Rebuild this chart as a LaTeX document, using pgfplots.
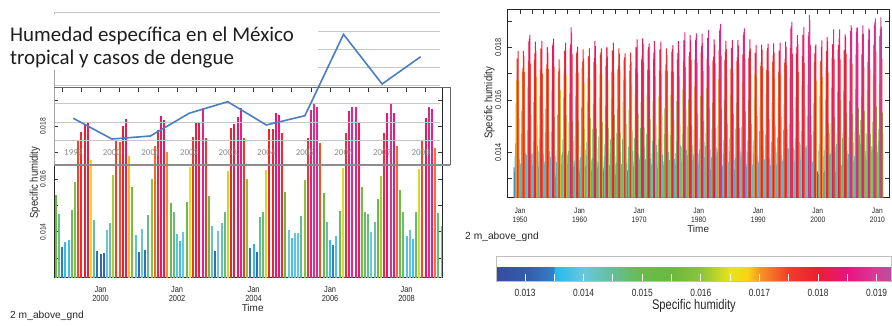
\documentclass[border=0pt]{standalone}
\usepackage{pgfplots}
\pgfplotsset{compat=1.18}
\usepackage{pgfplotstable}
\usepackage{fontspec}
\setmainfont{Liberation Sans}
\newfontfamily\narrowfont[FakeStretch=0.85]{Liberation Sans}
\newfontfamily\cbfont[FakeStretch=0.8]{Liberation Sans}
\newfontfamily\calibri{Carlito}
\definecolor{txt}{RGB}{40,40,40}
\definecolor{dengue}{RGB}{74,126,193}
\definecolor{bA}{RGB}{52,84,164}
\definecolor{bB}{RGB}{51,110,185}
\definecolor{bC}{RGB}{70,192,232}
\definecolor{bD}{RGB}{102,195,185}
\definecolor{bE}{RGB}{102,188,112}
\definecolor{bF}{RGB}{106,186,68}
\definecolor{bG}{RGB}{124,190,61}
\definecolor{bH}{RGB}{188,212,42}
\definecolor{bI}{RGB}{248,205,25}
\definecolor{bJ}{RGB}{243,105,40}
\definecolor{bK}{RGB}{238,45,45}
\definecolor{bL}{RGB}{234,25,90}
\definecolor{bM}{RGB}{224,40,140}
\definecolor{bN}{RGB}{190,75,160}
\newcommand\binplot[3]{%
  \pgfplotsinvokeforeach{1,...,12}{%
    \addplot[ybar, bar width=1bp, bar shift=0pt, fill=#3, draw=none,
      restrict y to domain=#1:#2]
      table[x expr=\thisrow{year}+(##1-1)/12, y=m##1] {\shdata};
  }%
}
\pgfplotsset{
  colormap={humid}{
    rgb255(0)=(52,78,160)
    rgb255(50)=(52,90,168)
    rgb255(99)=(50,128,200)
    rgb255(100)=(35,185,240)
    rgb255(150)=(105,200,220)
    rgb255(200)=(100,190,150)
    rgb255(250)=(105,187,75)
    rgb255(300)=(108,185,62)
    rgb255(350)=(140,195,60)
    rgb255(400)=(235,228,25)
    rgb255(430)=(250,210,20)
    rgb255(450)=(246,150,40)
    rgb255(500)=(240,60,40)
    rgb255(550)=(236,30,50)
    rgb255(600)=(232,20,130)
    rgb255(650)=(215,60,150)
    rgb255(675)=(180,80,165)
  },
}
\pgfplotstableread{
year m1 m2 m3 m4 m5 m6 m7 m8 m9 m10 m11 m12
1949 0.01343 0.01326 0.01385 0.01435 0.01587 0.01677 0.01757 0.01757 0.01787 0.01672 0.01528 0.01374
1950 0.01313 0.01351 0.01360 0.01470 0.01557 0.01707 0.01722 0.01787 0.01767 0.01707 0.01473 0.01399
1951 0.01368 0.01391 0.01380 0.01485 0.01648 0.01748 0.01823 0.01833 0.01848 0.01738 0.01543 0.01394
1952 0.01340 0.01353 0.01397 0.01442 0.01593 0.01752 0.01777 0.01822 0.01787 0.01688 0.01505 0.01426
1953 0.01362 0.01345 0.01404 0.01454 0.01615 0.01715 0.01795 0.01795 0.01825 0.01700 0.01547 0.01393
1954 0.01319 0.01357 0.01366 0.01476 0.01567 0.01720 0.01735 0.01800 0.01780 0.01717 0.01479 0.01405
1955 0.01361 0.01384 0.01373 0.01478 0.01636 0.01733 0.01808 0.01818 0.01833 0.01726 0.01536 0.01387
1956 0.01306 0.01319 0.01363 0.01408 0.01542 0.01684 0.01709 0.01754 0.01719 0.01637 0.01471 0.01392
1957 0.01358 0.01341 0.01400 0.01450 0.01610 0.01708 0.01788 0.01788 0.01818 0.01695 0.01543 0.01389
1958 0.01358 0.01396 0.01405 0.01515 0.01624 0.01796 0.01811 0.01876 0.01856 0.01774 0.01518 0.01444
1959 0.01346 0.01369 0.01358 0.01463 0.01614 0.01703 0.01778 0.01788 0.01803 0.01704 0.01521 0.01372
1960 0.01325 0.01338 0.01382 0.01427 0.01571 0.01722 0.01747 0.01792 0.01757 0.01666 0.01490 0.01411
1961 0.01347 0.01330 0.01389 0.01439 0.01594 0.01686 0.01766 0.01766 0.01796 0.01679 0.01532 0.01378
1962 0.01332 0.01370 0.01379 0.01489 0.01585 0.01745 0.01760 0.01825 0.01805 0.01735 0.01492 0.01418
1963 0.01342 0.01365 0.01354 0.01459 0.01609 0.01696 0.01771 0.01781 0.01796 0.01699 0.01517 0.01368
1964 0.01329 0.01342 0.01386 0.01431 0.01577 0.01730 0.01755 0.01800 0.01765 0.01672 0.01494 0.01415
1965 0.01352 0.01341 0.01394 0.01450 0.01604 0.01708 0.01788 0.01788 0.01818 0.01702 0.01543 0.01389
1966 0.01317 0.01355 0.01364 0.01474 0.01564 0.01716 0.01731 0.01796 0.01776 0.01714 0.01477 0.01403
1967 0.01333 0.01356 0.01345 0.01450 0.01594 0.01677 0.01752 0.01762 0.01777 0.01684 0.01508 0.01359
1968 0.01319 0.01332 0.01376 0.01421 0.01562 0.01710 0.01735 0.01780 0.01745 0.01657 0.01484 0.01405
1969 0.01364 0.01347 0.01406 0.01456 0.01619 0.01720 0.01800 0.01800 0.01830 0.01704 0.01549 0.01395
1970 0.01336 0.01374 0.01383 0.01493 0.01592 0.01754 0.01769 0.01834 0.01814 0.01742 0.01496 0.01422
1971 0.01352 0.01375 0.01364 0.01469 0.01623 0.01715 0.01790 0.01800 0.01815 0.01713 0.01527 0.01378
1972 0.01342 0.01355 0.01399 0.01444 0.01595 0.01755 0.01780 0.01825 0.01790 0.01690 0.01507 0.01428
1973 0.01360 0.01343 0.01402 0.01452 0.01613 0.01712 0.01792 0.01792 0.01822 0.01698 0.01545 0.01391
1974 0.01320 0.01352 0.01366 0.01470 0.01568 0.01712 0.01735 0.01796 0.01772 0.01710 0.01480 0.01400
1975 0.01349 0.01372 0.01361 0.01466 0.01618 0.01709 0.01784 0.01794 0.01809 0.01708 0.01524 0.01375
1976 0.01341 0.01354 0.01398 0.01443 0.01595 0.01754 0.01779 0.01824 0.01789 0.01690 0.01506 0.01427
1977 0.01378 0.01361 0.01420 0.01470 0.01640 0.01747 0.01827 0.01827 0.01857 0.01725 0.01563 0.01409
1978 0.01343 0.01381 0.01390 0.01500 0.01602 0.01767 0.01782 0.01847 0.01827 0.01752 0.01503 0.01429
1979 0.01371 0.01394 0.01383 0.01488 0.01652 0.01753 0.01828 0.01838 0.01853 0.01742 0.01546 0.01397
1980 0.01355 0.01368 0.01412 0.01457 0.01615 0.01781 0.01806 0.01851 0.01816 0.01710 0.01520 0.01441
1981 0.01383 0.01366 0.01425 0.01475 0.01646 0.01756 0.01836 0.01836 0.01866 0.01731 0.01568 0.01414
1982 0.01334 0.01372 0.01381 0.01491 0.01589 0.01750 0.01765 0.01830 0.01810 0.01739 0.01494 0.01420
1983 0.01389 0.01412 0.01401 0.01506 0.01679 0.01789 0.01864 0.01874 0.01889 0.01769 0.01564 0.01415
1984 0.01345 0.01352 0.01396 0.01447 0.01598 0.01752 0.01783 0.01825 0.01793 0.01686 0.01510 0.01424
1985 0.01363 0.01346 0.01405 0.01455 0.01618 0.01718 0.01798 0.01798 0.01828 0.01703 0.01548 0.01394
1986 0.01333 0.01371 0.01380 0.01490 0.01588 0.01748 0.01763 0.01828 0.01808 0.01738 0.01493 0.01419
1987 0.01381 0.01404 0.01393 0.01498 0.01666 0.01772 0.01847 0.01857 0.01872 0.01756 0.01556 0.01407
1988 0.01344 0.01357 0.01401 0.01446 0.01599 0.01760 0.01785 0.01830 0.01795 0.01694 0.01509 0.01430
1989 0.01354 0.01337 0.01396 0.01446 0.01603 0.01699 0.01779 0.01779 0.01809 0.01688 0.01539 0.01385
1990 0.01324 0.01362 0.01371 0.01481 0.01574 0.01730 0.01745 0.01810 0.01790 0.01724 0.01484 0.01410
1991 0.01351 0.01374 0.01363 0.01468 0.01621 0.01713 0.01788 0.01798 0.01813 0.01711 0.01526 0.01377
1992 0.01337 0.01350 0.01394 0.01439 0.01588 0.01745 0.01770 0.01815 0.01780 0.01683 0.01502 0.01423
1993 0.01358 0.01349 0.01400 0.01458 0.01610 0.01708 0.01788 0.01788 0.01818 0.01695 0.01536 0.01389
1994 0.01330 0.01368 0.01377 0.01487 0.01583 0.01742 0.01757 0.01822 0.01802 0.01733 0.01490 0.01416
1995 0.01393 0.01416 0.01405 0.01510 0.01685 0.01797 0.01872 0.01882 0.01897 0.01775 0.01568 0.01419
1996 0.01353 0.01366 0.01410 0.01455 0.01612 0.01777 0.01802 0.01847 0.01812 0.01707 0.01518 0.01439
1997 0.01389 0.01372 0.01431 0.01481 0.01655 0.01768 0.01848 0.01848 0.01878 0.01740 0.01574 0.01420
1998 0.01381 0.01419 0.01428 0.01538 0.01659 0.01843 0.01858 0.01923 0.01903 0.01809 0.01541 0.01467
1999 0.01343 0.01362 0.01368 0.01482 0.01587 0.01744 0.01777 0.01805 0.01811 0.01672 0.01444 0.01328
2000 0.01315 0.01318 0.01406 0.01432 0.01615 0.01748 0.01739 0.01801 0.01827 0.01687 0.01568 0.01387
2001 0.01322 0.01409 0.01330 0.01463 0.01600 0.01725 0.01786 0.01839 0.01824 0.01704 0.01510 0.01473
2002 0.01390 0.01366 0.01397 0.01511 0.01647 0.01761 0.01811 0.01811 0.01868 0.01754 0.01535 0.01422
2003 0.01327 0.01403 0.01432 0.01473 0.01632 0.01792 0.01809 0.01834 0.01868 0.01754 0.01600 0.01339
2004 0.01353 0.01324 0.01454 0.01476 0.01634 0.01789 0.01790 0.01849 0.01841 0.01776 0.01552 0.01406
2005 0.01375 0.01394 0.01394 0.01459 0.01596 0.01757 0.01862 0.01884 0.01875 0.01738 0.01546 0.01438
2006 0.01368 0.01349 0.01385 0.01480 0.01641 0.01773 0.01859 0.01875 0.01875 0.01818 0.01568 0.01476
2007 0.01466 0.01400 0.01435 0.01524 0.01613 0.01773 0.01849 0.01884 0.01852 0.01725 0.01558 0.01473
2008 0.01385 0.01406 0.01372 0.01473 0.01637 0.01744 0.01830 0.01872 0.01866 0.01719 0.01470 0.01422
2009 0.01400 0.01423 0.01412 0.01517 0.01694 0.01810 0.01885 0.01895 0.01910 0.01784 0.01575 0.01426
2010 0.01387 0.01400 0.01444 0.01489 0.01662 0.01844 0.01869 0.01914 0.01879 0.01757 0.01552 0.01473
}\shdata

\begin{document}
\begin{tikzpicture}
\fill[white] (0,0) rectangle (892bp,326bp);

% ---------- left: monthly specific humidity 1999-2008 ----------
\begin{axis}[
  at={(54bp,49bp)}, anchor=south west, scale only axis,
  width=388bp, height=189.7bp,
  xmin=1998.783, xmax=2008.927, ymin=0.01228, ymax=0.01948,
  colormap name=humid, point meta min=0.0125, point meta max=0.01925,
  axis line style={black!85, line width=0.6bp},
  tick align=inside, major tick length=4.5bp, minor tick length=4.5bp,
  every tick/.style={black!80, line width=0.8bp},
  xtick={2000,2002,2004,2006,2008},
  minor xtick={1999,1999.5,...,2008.5},
  xticklabels={{Jan\\2000},{Jan\\2002},{Jan\\2004},{Jan\\2006},{Jan\\2008}},
  xticklabel style={align=center, anchor=north, inner sep=0pt, yshift=-9bp, font=\narrowfont\fontsize{8.8}{9.7}\selectfont, text=txt},
  ytick={0.013,0.014,0.015,0.016,0.017,0.018,0.019},
  yticklabels={,0.014,,0.016,,0.018,},
  scaled y ticks=false, scaled x ticks=false,
  yticklabel style={xshift=-8bp, rotate=90, anchor=south, inner sep=0pt, font=\narrowfont\fontsize{7.9}{8}\selectfont, text=txt},
  ylabel={Specific humidity},
  ylabel style={at={(axis description cs:-0.049,0.498)}, anchor=center, font=\narrowfont\fontsize{11.3}{12}\selectfont, text=txt},
  xlabel={Time},
  xlabel style={at={(axis description cs:0.512,-0.165)}, anchor=center, font=\fontsize{10}{11}\selectfont, text=txt},
  restrict x to domain=1998.8:2009,
]
\pgfplotsinvokeforeach{1,...,12}{
  \addplot[point meta=explicit, draw=none,
    quiver={u=0, v={0.0122-\thisrow{m#1}}, colored=mapped color,
      every arrow/.append style={line width=2bp, draw=mapped color}}]
    table[x expr=\thisrow{year}+(#1-1)/12, y=m#1, meta=m#1] {\shdata};
}
\end{axis}

% ---------- overlay: dengue cases ----------
\begin{axis}[
  at={(54bp,161bp)}, anchor=south west, scale only axis,
  width=386bp, height=152.3bp,
  xmin=1998.5, xmax=2008.5, ymin=0, ymax=41840,
  axis line style={draw=none},
  xtick={1999,2000,2001,2002,2003,2004,2005,2006,2007,2008},
  xticklabels={1999,2000,2001,2002,2003,2004,2005,2006,2007,2008},
  xticklabel style={anchor=center, yshift=12.3bp, font=\calibri\fontsize{9}{10}\selectfont, text=black!45},
  major tick length=0pt,
  ytick={6840,11840,16840,21840,26840,31840,36840,41840}, yticklabels={},
  ymajorgrids, grid style={black!22, line width=0.7bp},
  scaled y ticks=false,
]
\addplot[dengue, line width=1.6bp, mark=none] coordinates {
  (1999,12830) (2000,7140) (2001,7970) (2002,14200) (2003,17390)
  (2004,10990) (2005,13540) (2006,35900) (2007,22250) (2008,29750)};
\end{axis}
\draw[black!35, line width=0.6bp] (54bp,161bp) -- (54bp,313.3bp);
\draw[black!45, line width=1.5bp] (54bp,161bp) -- (450bp,161bp);
\draw[black!60, line width=1.3bp] (54bp,238.7bp) -- (450bp,238.7bp);
\draw[black!60, line width=0.8bp] (450bp,161bp) -- (450bp,238.7bp);
\fill[white] (0,256bp) rectangle (318bp,312bp);
\node[anchor=base west, inner sep=0pt, font=\calibri\fontsize{21}{23}\selectfont, text=black!88] at (10bp,284.3bp) {Humedad específica en el México};
\node[anchor=base west, inner sep=0pt, font=\calibri\fontsize{21}{23}\selectfont, text=black!88] at (10bp,261bp) {tropical y casos de dengue};
\node[anchor=west, inner sep=0pt, font=\fontsize{10.3}{11}\selectfont, text=txt] at (10bp,10.3bp) {2 m\_above\_gnd};

% ---------- right: monthly specific humidity 1949-2010 ----------
\begin{axis}[
  at={(507.3bp,128.3bp)}, anchor=south west, scale only axis,
  width=381.7bp, height=188.7bp,
  xmin=1947.87, xmax=2011.96, ymin=0.01228, ymax=0.01946,
  axis line style={black!85, line width=0.6bp},
  tick align=inside, major tick length=4.5bp, minor tick length=4.5bp,
  every tick/.style={black!80, line width=0.8bp},
  xtick={1950,1960,1970,1980,1990,2000,2010},
  minor x tick num=4,
  xticklabels={{Jan\\1950},{Jan\\1960},{Jan\\1970},{Jan\\1980},{Jan\\1990},{Jan\\2000},{Jan\\2010}},
  xticklabel style={align=center, anchor=north, inner sep=0pt, yshift=-10bp, font=\narrowfont\fontsize{7.9}{9.3}\selectfont, text=txt},
  ytick={0.013,0.014,0.015,0.016,0.017,0.018,0.019},
  yticklabels={,0.014,,0.016,,0.018,},
  scaled y ticks=false, scaled x ticks=false,
  yticklabel style={xshift=-5.9bp, rotate=90, anchor=south, inner sep=0pt, font=\narrowfont\fontsize{8.6}{9}\selectfont, text=txt},
  ylabel={Specific humidity},
  ylabel style={at={(axis description cs:-0.047,0.502)}, anchor=center, font=\narrowfont\fontsize{11.3}{12}\selectfont, text=txt},
  xlabel={Time},
  xlabel style={at={(axis description cs:0.5,-0.167)}, anchor=center, font=\fontsize{10}{11}\selectfont, text=txt},
]
\binplot{0.0120}{0.0130}{bA}
\binplot{0.0130}{0.0135}{bB}
\binplot{0.0135}{0.0140}{bC}
\binplot{0.0140}{0.0145}{bD}
\binplot{0.0145}{0.0150}{bE}
\binplot{0.0150}{0.0155}{bF}
\binplot{0.0155}{0.0160}{bG}
\binplot{0.0160}{0.0165}{bH}
\binplot{0.0165}{0.0170}{bI}
\binplot{0.0170}{0.0175}{bJ}
\binplot{0.0175}{0.0180}{bK}
\binplot{0.0180}{0.0185}{bL}
\binplot{0.0185}{0.0190}{bM}
\binplot{0.0190}{0.0196}{bN}
\end{axis}
\node[anchor=west, inner sep=0pt, font=\fontsize{10.3}{11}\selectfont, text=txt] at (465bp,88.7bp) {2 m\_above\_gnd};

% ---------- colour bar ----------
\begin{axis}[
  at={(495.7bp,53bp)}, anchor=south west, scale only axis,
  width=395.6bp, height=25bp,
  hide axis, xmin=0, xmax=1, ymin=0, ymax=1,
  colormap name=humid, point meta min=0.0125, point meta max=0.01925,
  colorbar horizontal,
  colorbar style={
    at={(parent axis.south west)}, anchor=south west,
    scale only axis, width=395.6bp, height=25bp,
    xtick={0.013,0.014,0.015,0.016,0.017,0.018,0.019},
    xticklabels={0.013,0.014,0.015,0.016,0.017,0.018,0.019},
    minor xtick={0.0135,0.0145,0.0155,0.0165,0.0175,0.0185},
    scaled x ticks=false,
    xtick pos=both, xticklabel pos=lower,
    tick align=inside, major tick length=8bp, minor tick length=8bp,
    every tick/.style={white, line width=0.9bp},
    xticklabel style={inner sep=0pt, anchor=north, yshift=-7.4bp, font=\cbfont\fontsize{10.5}{11}\selectfont, text=txt},
    axis line style={black!25},
    xlabel={Specific humidity},
    xlabel style={at={(axis description cs:0.501,-0.99)}, anchor=center, font=\cbfont\fontsize{14}{15}\selectfont, text=txt},
  },
]
\addplot[draw=none] coordinates {(0.5,0.5)};
\end{axis}

\pgfresetboundingbox
\path (0,0) rectangle (892bp,326bp);
\end{tikzpicture}
\end{document}
